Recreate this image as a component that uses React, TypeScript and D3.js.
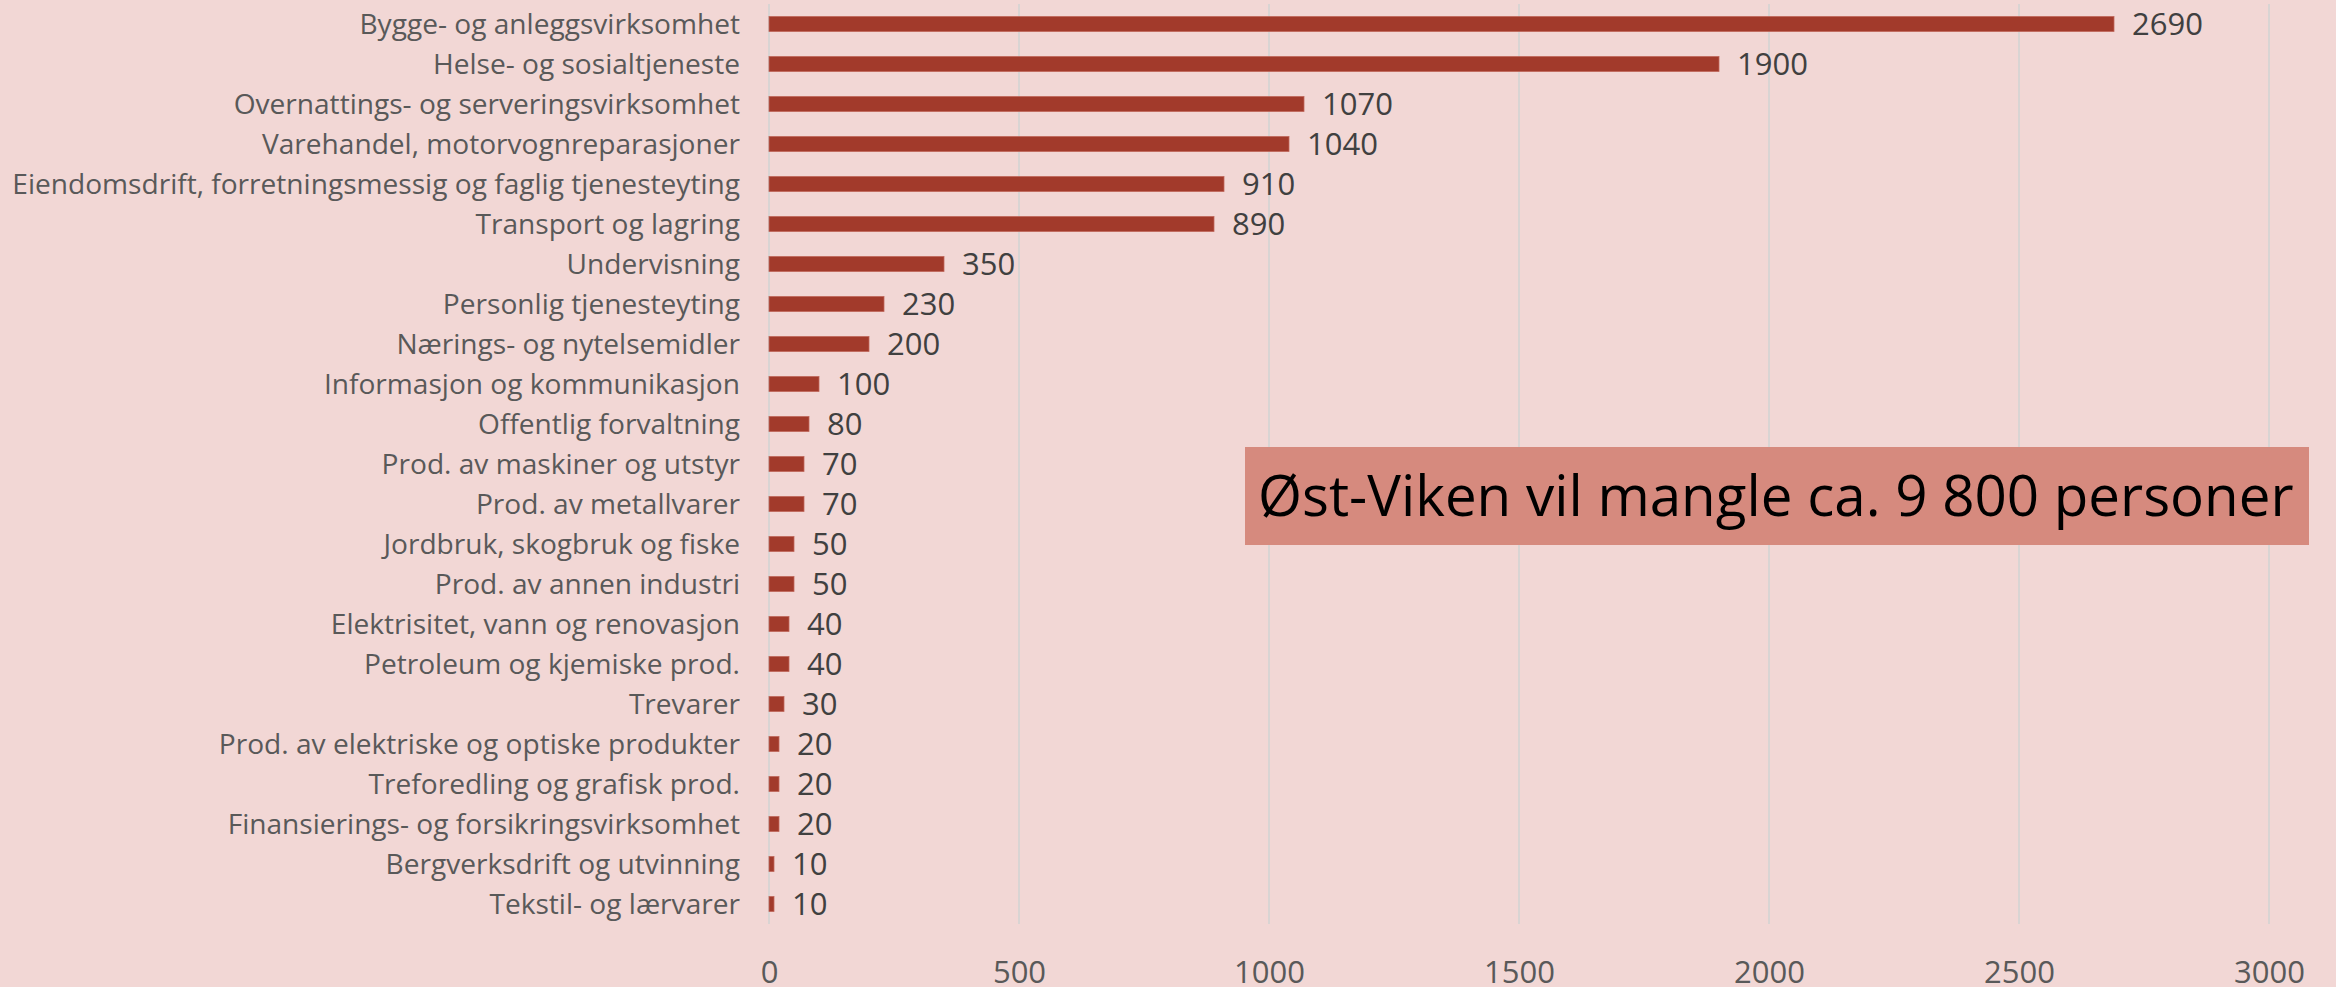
import React, { useEffect, useRef } from 'react'
import * as d3 from 'd3'

// næringer og antall personer som mangler
const categories: string[] = [
  'Bygge- og anleggsvirksomhet',
  'Helse- og sosialtjeneste',
  'Overnattings- og serveringsvirksomhet',
  'Varehandel, motorvognreparasjoner',
  'Eiendomsdrift, forretningsmessig og faglig tjenesteyting',
  'Transport og lagring',
  'Undervisning',
  'Personlig tjenesteyting',
  'Nærings- og nytelsemidler',
  'Informasjon og kommunikasjon',
  'Offentlig forvaltning',
  'Prod. av maskiner og utstyr',
  'Prod. av metallvarer',
  'Jordbruk, skogbruk og fiske',
  'Prod. av annen industri',
  'Elektrisitet, vann og renovasjon',
  'Petroleum og kjemiske prod.',
  'Trevarer',
  'Prod. av elektriske og optiske produkter',
  'Treforedling og grafisk prod.',
  'Finansierings- og forsikringsvirksomhet',
  'Bergverksdrift og utvinning',
  'Tekstil- og lærvarer',
]
const values: number[] = [
  2690, 1900, 1070, 1040, 910, 890, 350, 230, 200, 100, 80, 70, 70, 50, 50, 40, 40, 30, 20, 20, 20, 10, 10,
]
const xTicks: number[] = [0, 500, 1000, 1500, 2000, 2500, 3000]
const annotation = 'Øst-Viken vil mangle ca. 9 800 personer'

const W = 2336
const H = 987
const FONT = "'Open Sans', 'Noto Sans', sans-serif"

export default function App() {
  const ref = useRef<SVGSVGElement>(null)

  useEffect(() => {
    const svg = d3.select(ref.current)
    svg.selectAll('*').remove()

    const left = 769
    const right = 2269
    const top = 4
    const bottom = 924

    const x = d3.scaleLinear().domain([0, 3000]).range([left, right])
    const y = d3.scaleBand<string>().domain(categories).range([top, bottom]).paddingInner(0.625).paddingOuter(0.3125)

    svg.append('rect').attr('width', W).attr('height', H).attr('fill', '#F2D7D5')

    // gridlines
    svg.append('g')
      .selectAll('line')
      .data(xTicks)
      .enter()
      .append('line')
      .attr('x1', d => x(d))
      .attr('x2', d => x(d))
      .attr('y1', top)
      .attr('y2', bottom)
      .attr('stroke', '#D9D4D3')
      .attr('stroke-width', 2)

    // x axis
    const ax = svg.append('g')
      .attr('transform', 'translate(0,' + 983 + ')')
      .call(d3.axisBottom(x).tickValues(xTicks).tickSize(0).tickPadding(0).tickFormat(d3.format('d')))
    ax.select('.domain').remove()
    ax.selectAll('text')
      .attr('dy', 0)
      .style('font-family', FONT)
      .style('font-size', '31px')
      .attr('fill', '#595959')

    // bars
    svg.append('g')
      .selectAll('rect')
      .data(values)
      .enter()
      .append('rect')
      .attr('x', x(0))
      .attr('y', (d, i) => y(categories[i]) as number)
      .attr('width', d => x(d) - x(0))
      .attr('height', y.bandwidth())
      .attr('fill', '#A23A2B')
      .attr('stroke', '#C0665A')
      .attr('stroke-width', 0.8)

    // category labels
    const labels = svg.append('g')
      .selectAll('text')
      .data(categories)
      .enter()
      .append('text')
      .attr('x', 740)
      .attr('y', d => (y(d) as number) + y.bandwidth() / 2)
      .attr('dy', '0.36em')
      .attr('text-anchor', 'end')
      .style('font-family', FONT)
      .style('font-size', '25px')
      .attr('fill', '#595959')
      .text(d => d)
    // fit the longest label to the width it has in the original
    let maxLen = 0
    labels.each(function () {
      maxLen = Math.max(maxLen, (this as SVGTextElement).getComputedTextLength())
    })
    if (maxLen > 0) labels.style('font-size', (25 * 728 / maxLen) + 'px')

    // value labels
    svg.append('g')
      .selectAll('text')
      .data(values)
      .enter()
      .append('text')
      .attr('x', d => x(d) + 18)
      .attr('y', (d, i) => (y(categories[i]) as number) + y.bandwidth() / 2)
      .attr('dy', '0.36em')
      .style('font-family', FONT)
      .style('font-size', '31px')
      .attr('fill', '#404040')
      .text(d => d)

    // annotation box
    const box = svg.append('g')
    box.append('rect')
      .attr('x', 1245)
      .attr('y', 447)
      .attr('width', 1064)
      .attr('height', 98)
      .attr('fill', '#D68A7E')
    const note = box.append('text')
      .attr('x', 1258)
      .attr('y', 496)
      .attr('dy', '0.36em')
      .style('font-family', FONT)
      .style('font-size', '60px')
      .attr('fill', '#000')
      .text(annotation)
    const nLen = (note.node() as SVGTextElement).getComputedTextLength()
    if (nLen > 0) note.style('font-size', Math.min(64, 60 * 1036 / nLen) + 'px')
  }, [])

  return (
    <div style={{ position: 'absolute', left: 0, top: 0 }}>
      <svg ref={ref} width={W} height={H} style={{ display: 'block' }}></svg>
    </div>
  )
}
